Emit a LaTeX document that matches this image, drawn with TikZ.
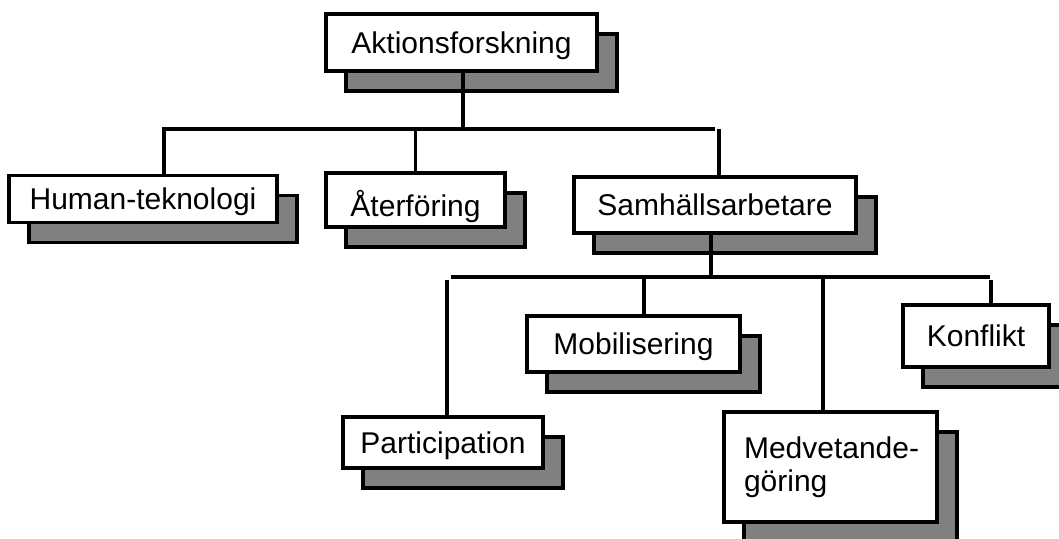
\documentclass[tikz,border=0pt]{standalone}
\usepackage{fontspec}
\setmainfont{Liberation Sans}
\usetikzlibrary{shadows}
\definecolor{shadowgray}{RGB}{128,128,128}
\begin{document}
\begin{tikzpicture}[x=1pt,y=1pt,
  box/.style={draw=black, line width=3.2pt, fill=white, inner sep=0pt, outer sep=0pt,
    font=\fontsize{30}{33}\selectfont, text height=21.5pt, text depth=0pt,
    drop shadow={shadow xshift=20pt, shadow yshift=-20pt, opacity=1,
      fill=shadowgray, draw=black, line width=3.2pt}},
  boxtext/.style={inner sep=0pt, outer sep=0pt, font=\fontsize{30}{33}\selectfont},
  conn/.style={line width=3.2pt, line cap=rect}]
\useasboundingbox (0,0) rectangle (1059,-538);
\clip (0,0) rectangle (1059,-538);

% boxes
\node[box, minimum width=271pt, minimum height=57pt] (akt) at (461.5,-42.5) {Aktionsforskning};
\node[box, minimum width=268pt, minimum height=47pt] (hum) at (143,-199) {Human-teknologi};
\node[box, minimum width=179pt, minimum height=54pt, text height=33pt] (ater) at (415.5,-200) {Återföring};
\node[box, minimum width=282pt, minimum height=56pt] (sam) at (715,-205) {Samhällsarbetare};
\node[box, minimum width=213pt, minimum height=56pt] (mob) at (633.5,-344) {Mobilisering};
\node[box, minimum width=146pt, minimum height=62pt] (kon) at (976,-336) {Konflikt};
\node[box, minimum width=200pt, minimum height=51pt] (par) at (443,-442.5) {Participation};
\node[box, minimum width=213pt, minimum height=110pt] (med) at (830.5,-467) {};
\node[boxtext, anchor=north west, align=left] (medtxt) at ([shift={(20,-25)}]med.north west) {Medvetande-\\göring};

% junction points of the connectors
\coordinate (aktOut) at (463,-129);
\coordinate (barAL) at (164,-129);
\coordinate (barAR) at (713,-129);
\coordinate (samIn) at (719,-131);
\coordinate (samOut) at (711,-277);
\coordinate (barBL) at (453,-277);
\coordinate (barBR) at (988,-277);
\coordinate (parIn) at (447,-282);
\coordinate (mobIn) at (644,-277);
\coordinate (medIn) at (823,-277);
\coordinate (konIn) at (991,-282);

% first level
\draw[conn] (barAL) -- (barAR);
\draw[conn] (aktOut |- akt.south) -- (aktOut);
\draw[conn] (barAL) -- (barAL |- hum.north);
\draw[conn] (ater.north |- barAL) -- (ater.north);
\draw[conn] (samIn) -- (samIn |- sam.north);

% second level
\draw[conn] (samOut |- sam.south) -- (samOut);
\draw[conn] (barBL) -- (barBR);
\draw[conn] (parIn) -- (parIn |- par.north);
\draw[conn] (mobIn) -- (mobIn |- mob.north);
\draw[conn] (medIn) -- (medIn |- med.north);
\draw[conn] (konIn) -- (konIn |- kon.north);
\end{tikzpicture}
\end{document}
